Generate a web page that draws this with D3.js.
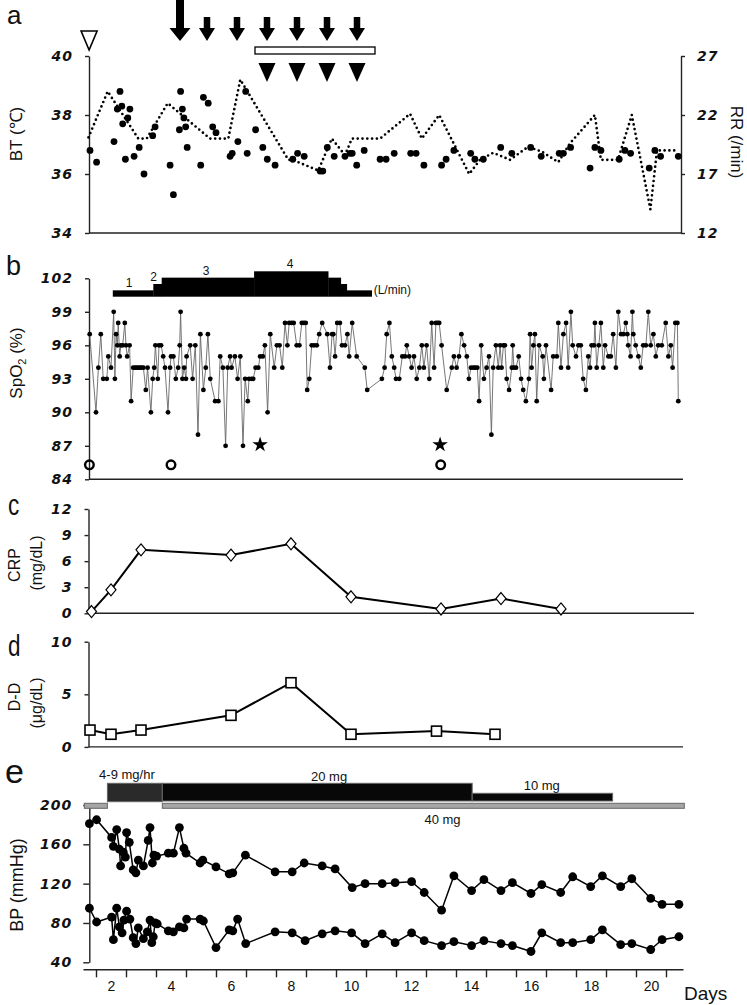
<!DOCTYPE html>
<html><head><meta charset="utf-8">
<script src="https://cdn.jsdelivr.net/npm/d3@7"></script>
<style>
body{margin:0;background:#fff}
svg{display:block}
.yax .tick text{font-family:"DejaVu Sans",sans-serif;font-weight:bold;font-style:italic;font-size:14px;letter-spacing:1px;fill:#111}
.xl .tick text{font-family:"Liberation Sans",Arial,sans-serif;font-size:14px;fill:#111}
.lbl{font-family:"Liberation Sans",Arial,sans-serif;fill:#111}
</style></head><body>
<svg id="chart" width="747" height="1005"></svg>
<script>
// ---------- DATA ----------
// Panel a: body temperature (dots) and respiratory rate (dotted line)
const btDays = [1.30,1.52,2.10,2.21,2.30,2.36,2.39,2.48,2.56,2.63,2.77,2.94,3.10,3.39,3.47,3.97,4.08,4.28,4.32,4.38,4.43,4.49,4.54,4.99,5.08,5.24,5.39,5.50,5.97,6.04,6.23,6.49,6.54,6.82,7.06,7.21,7.47,8.06,8.22,8.44,8.97,9.06,9.21,9.44,9.80,9.97,10.04,10.19,10.44,10.97,11.17,11.44,11.99,12.17,12.43,13.02,13.17,13.43,13.99,14.13,14.41,14.99,15.36,15.99,16.34,16.94,17.08,17.32,17.97,18.13,18.33,18.94,19.13,19.32,19.94,20.13,20.32,20.91];
const btVals = [36.8,36.4,37.1,38.2,38.8,38.3,37.7,36.5,37.9,38.2,36.6,36.9,36.0,37.3,37.6,36.3,35.3,37.5,38.8,38.2,37.9,37.6,36.9,36.3,38.6,38.4,37.6,37.4,36.6,36.7,37.1,38.8,36.7,37.5,36.9,36.5,36.3,36.5,36.7,36.6,36.1,36.1,36.9,36.6,36.6,36.7,36.7,36.3,36.8,36.5,36.5,36.7,36.7,36.7,36.3,36.3,36.5,36.8,36.7,36.5,36.5,36.9,36.7,36.9,36.6,36.7,36.7,36.9,36.2,36.9,36.8,36.5,36.8,36.7,36.2,36.8,36.6,36.6];
const rrDays = [1.25,1.89,2.91,3.19,3.89,5.30,5.91,6.31,7.91,8.05,8.91,9.36,9.80,10.03,10.97,11.97,12.36,12.94,13.94,14.30,14.74,15.30,15.90,16.36,16.91,17.30,18.13,18.33,18.90,19.36,19.98,20.20,20.87];
const rrVals = [20.1,24.0,20.0,20.0,23.0,20.0,20.0,25.0,18.2,18.2,17.3,20.0,18.6,20.0,20.0,22.1,20.0,22.0,17.0,18.2,18.8,18.2,19.3,18.9,18.0,19.6,22.0,18.2,18.2,22.0,14.0,19.0,19.0];
const btTicks = [34,36,38,40];
const rrTicks = [12,17,22,27];
const bigArrowDays = [4.3];
const arrowDays = [5.2,6.2,7.2,8.2,9.2,10.2];
const filledTriangleDays = [7.2,8.2,9.2,10.2];
const openTriangleDays = [1.27];
const openBarPeriod = [6.8,10.8];

// Panel b: SpO2 and O2 flow
const spo2Days = [1.29,1.50,1.58,1.66,1.74,1.86,1.91,2.00,2.09,2.13,2.17,2.21,2.24,2.29,2.33,2.39,2.46,2.50,2.54,2.62,2.67,2.74,2.80,2.86,2.91,2.97,3.02,3.08,3.16,3.22,3.33,3.39,3.44,3.48,3.56,3.60,3.67,3.74,3.80,3.90,3.97,4.00,4.08,4.16,4.24,4.29,4.32,4.38,4.44,4.50,4.52,4.64,4.72,4.81,4.90,4.98,5.08,5.16,5.23,5.31,5.47,5.58,5.64,5.73,5.82,5.89,5.97,6.02,6.13,6.22,6.31,6.40,6.47,6.56,6.60,6.69,6.74,6.82,6.91,6.97,7.06,7.13,7.22,7.31,7.44,7.53,7.62,7.71,7.80,7.88,7.94,8.02,8.09,
 8.19,8.28,8.36,8.43,8.49,8.54,8.61,8.69,8.77,8.86,8.94,9.04,9.21,9.30,9.37,9.41,9.47,9.54,9.63,9.70,9.80,9.88,9.94,10.04,10.19,10.46,10.54,11.03,11.12,11.19,11.28,11.36,11.44,11.50,11.61,11.71,11.80,11.86,11.94,12.02,12.10,12.19,12.28,12.36,12.43,12.52,12.61,12.69,12.77,12.83,12.89,12.94,13.02,13.19,13.36,13.43,13.52,13.60,13.68,13.77,13.86,13.93,14.00,14.08,14.14,14.21,14.27,14.34,14.43,14.52,14.60,14.68,
 14.74,14.83,14.91,14.97,15.02,15.08,15.13,15.19,15.27,15.36,15.39,15.43,15.50,15.59,15.67,15.74,15.83,15.93,15.97,16.02,16.08,16.13,16.19,16.27,16.39,16.43,16.50,16.67,16.74,16.86,16.91,17.00,17.08,17.17,17.24,17.33,17.39,17.50,17.58,17.66,17.74,17.83,17.91,17.97,18.02,18.10,18.13,18.19,18.26,18.33,18.41,18.47,18.58,18.66,18.74,18.83,18.91,19.00,19.08,19.16,19.21,19.24,19.32,19.38,19.41,19.49,19.58,19.66,19.74,19.83,19.91,19.99,20.08,20.16,20.24,20.36,20.49,20.58,20.66,20.72,20.81,20.88,20.91];
const spo2Vals = [97,90,94,97,93,93,95,94,99,93,97,96,98,95,96,96,98,96,95,96,91,94,94,94,94,94,94,94,92,94,90,93,94,96,93,96,96,95,94,90,94,95,95,93,94,96,99,93,94,93,95,96,93,96,88,97,92,94,97,93,91,91,95,94,87,94,95,94,95,93,95,87,93,91,93,93,93,94,94,95,95,96,90,97,94,96,96,94,98,96,98,98,98,
 96,96,98,98,98,92,93,96,96,96,97,98,97,94,97,97,95,98,98,96,96,97,95,98,95,94,92,93,94,97,98,95,94,93,93,95,95,96,95,94,95,93,94,96,94,96,93,98,94,98,98,98,96,92,94,95,94,95,97,96,95,93,94,94,94,94,91,96,93,94,95,88,
 94,96,94,96,94,96,96,93,92,94,96,94,94,95,93,92,91,93,97,94,96,97,91,96,95,93,96,92,95,95,98,94,97,98,94,99,96,95,96,96,93,92,95,94,96,96,98,94,96,98,94,96,95,95,97,94,99,97,97,98,97,96,95,99,97,96,95,94,96,96,99,96,97,95,96,96,98,95,96,94,98,98,91];
const spo2Ticks = [84,87,90,93,96,99,102];
const flowStart = [2.06,3.41,3.69,6.77,9.24,9.66,9.86];
const flowEnd   = [3.41,3.69,6.77,9.24,9.66,9.86,10.69];
const flowRate  = [1,2,3,4,3,2,1];
const flowLabelDays = [2.6,3.42,5.17,7.97];
const flowLabels = ["1","2","3","4"];
const circleDays = [1.28,4.0,12.99];
const starDays = [6.97,12.97];

// Panel c: CRP
const crpDays = [1.35,2,3,6,8,10,13,15,17];
const crpVals = [0.2,2.7,7.3,6.7,8.0,1.9,0.5,1.7,0.5];
const crpTicks = [0,3,6,9,12];

// Panel d: D-dimer
const ddDays = [1.3,2,3,6,8,10,12.85,14.8];
const ddVals = [1.6,1.2,1.6,3.0,6.1,1.2,1.5,1.2];
const ddTicks = [0,5,10];

// Panel e: blood pressure and medication
const bpDays = [1.28,1.52,2.02,2.08,2.19,2.28,2.32,2.41,2.48,2.52,2.61,2.74,2.83,2.91,3.08,3.24,3.30,3.38,3.43,3.52,3.91,4.08,4.28,4.43,4.50,4.97,5.06,5.50,5.94,6.06,6.48,7.47,8.04,8.44,9.04,9.47,10.04,10.47,11.04,11.47,12.02,12.44,13.02,13.43,14.02,14.43,15.00,15.38,16.00,16.36,16.99,17.39,17.99,18.38,18.99,19.36,19.99,20.37,20.93];
const sbpVals = [181,185,167,158,175,155,138,152,147,172,162,134,131,144,138,164,177,141,149,148,151,151,177,156,151,141,144,137,130,131,149,132,132,141,138,135,116,120,120,121,122,111,93,128,113,124,113,121,110,119,111,127,117,128,117,125,105,99,99];
const dbpDays = [1.28,1.52,2.02,2.08,2.19,2.28,2.37,2.43,2.52,2.63,2.74,2.83,2.91,3.08,3.21,3.30,3.36,3.41,3.47,3.54,3.91,4.08,4.28,4.43,4.52,4.97,5.08,5.50,5.94,6.06,6.22,6.49,7.47,8.04,8.47,9.04,9.47,10.02,10.47,11.04,11.47,12.02,12.44,13.02,13.43,14.02,14.43,15.00,15.38,16.00,16.36,16.99,17.39,17.99,18.38,18.99,19.36,19.99,20.37,20.93];
const dbpVals = [95,81,86,63,95,76,70,83,92,84,65,59,75,64,71,83,60,66,80,79,72,71,76,75,84,84,82,55,73,72,84,59,71,70,62,69,72,70,59,69,60,70,62,57,61,57,62,59,57,51,70,60,60,63,73,58,59,53,63,66];
const bpTicks = [40,80,120,160,200];
const infusionPeriod = [1.88,3.71];
const dose20Period = [3.71,14.04];
const dose10Period = [14.04,18.72];
const dose40Periods = [[1.11,1.88],[3.71,21.11]];
const medLabelText = ["4-9 mg/hr","20 mg","10 mg","40 mg"];
const medLabelDays = [2.53,9.27,16.36,13.05];
const dayTickBounds = [1.5,2.5,3.5,4.5,5.5,6.5,7.5,8.5,9.5,10.5,11.5,12.5,13.5,14.5,15.5,16.5,17.5,18.5,19.5,20.5];
const dayLabels = [2,4,6,8,10,12,14,16,18,20];

// ---------- DRAWING ----------
const svg = d3.select("#chart");
const x = d3.scaleLinear().domain([1.0667, 21.0667]).range([83, 683]);
const AX = "#222";
const fmt = d3.format("d");
function styleAxis(g){
  g.select(".domain").attr("stroke",AX).attr("stroke-width",1.4);
  g.selectAll(".tick line").attr("stroke",AX).attr("stroke-width",1.4);
}
function hline(x1,x2,y){
  svg.append("line").attr("x1",x1).attr("x2",x2).attr("y1",y).attr("y2",y)
    .attr("stroke",AX).attr("stroke-width",1.4);
}
function letter(t,xx,yy,size,sx){
  svg.append("text").attr("class","lbl").attr("transform",`translate(${xx},${yy}) scale(${sx||1},1)`)
    .attr("font-size",size).text(t);
}
function vlabel(cx,cy,size,rot){
  return svg.append("text").attr("class","lbl").attr("font-size",size)
    .attr("text-anchor","middle").attr("dy","0.35em")
    .attr("transform",`translate(${cx},${cy}) rotate(${rot||-90})`);
}
function leftAxis(scale,ticks,xpos,size,pad){
  svg.append("g").attr("class","yax").attr("transform",`translate(${xpos},0)`)
    .call(d3.axisLeft(scale).tickValues(ticks).tickFormat(fmt).tickSize(size).tickSizeOuter(0).tickPadding(pad))
    .call(styleAxis);
}

// ===== Panel a =====
const yBT = d3.scaleLinear().domain([34,40]).range([233,56]);
const yRR = d3.scaleLinear().domain([12,27]).range([233,56]);
leftAxis(yBT,btTicks,89,4,12);
svg.append("g").attr("class","yax").attr("transform","translate(681,0)")
  .call(d3.axisRight(yRR).tickValues(rrTicks).tickFormat(fmt).tickSize(4).tickSizeOuter(0).tickPadding(12)).call(styleAxis);
hline(89,681,yBT(34));
letter("a",7,23.5,26);
vlabel(16,134,17).text("BT (℃)");
vlabel(737,142,17,90).text("RR (/min)");

svg.append("path").datum(d3.zip(rrDays,rrVals))
  .attr("d",d3.line().x(d=>x(d[0])).y(d=>yRR(d[1])))
  .attr("fill","none").attr("stroke","#000").attr("stroke-width",2.7)
  .attr("stroke-linecap","round").attr("stroke-dasharray","0 4.8");
svg.append("g").selectAll("circle").data(d3.zip(btDays,btVals)).join("circle")
  .attr("cx",d=>x(d[0])).attr("cy",d=>yBT(d[1])).attr("r",3.4).attr("fill","#000");

function arrowPath(cx,sw,top,hw,ht,tip){
  return `M${cx-sw/2},${top}H${cx+sw/2}V${ht}H${cx+hw/2}L${cx},${tip}L${cx-hw/2},${ht}H${cx-sw/2}Z`;
}
svg.append("g").selectAll("path").data(bigArrowDays).join("path")
  .attr("d",d=>arrowPath(x(d),8,-2,21,28,41)).attr("fill","#000");
svg.append("g").selectAll("path").data(arrowDays).join("path")
  .attr("d",d=>arrowPath(x(d),6.5,17,16,28,41)).attr("fill","#000");
svg.append("g").selectAll("path").data(filledTriangleDays).join("path")
  .attr("d",d=>`M${x(d)-8.5},63H${x(d)+8.5}L${x(d)},82Z`).attr("fill","#000");
svg.append("g").selectAll("path").data(openTriangleDays).join("path")
  .attr("d",d=>`M${x(d)-8},31H${x(d)+8}L${x(d)},50Z`).attr("fill","#fff").attr("stroke","#000").attr("stroke-width",1.6);
svg.append("rect").attr("x",x(openBarPeriod[0])).attr("width",x(openBarPeriod[1])-x(openBarPeriod[0]))
  .attr("y",47).attr("height",7).attr("fill","#fff").attr("stroke","#000").attr("stroke-width",1.3);

// ===== Panel b =====
const ySp = d3.scaleLinear().domain([84,102]).range([479.3,278.3]);
const yFlow = d3.scaleLinear().domain([0,4]).range([296.7,271.3]);
leftAxis(ySp,spo2Ticks,89,4,12);
hline(89,683,ySp(84));
letter("b",6,275,27);
const spT = vlabel(16,363,17);
spT.append("tspan").text("SpO");
spT.append("tspan").attr("font-size",11).attr("dy","0.35em").text("2");
spT.append("tspan").attr("dy","-0.25em").text(" (%)");

svg.append("g").selectAll("rect").data(d3.range(flowRate.length)).join("rect")
  .attr("x",i=>x(flowStart[i])).attr("width",i=>x(flowEnd[i])-x(flowStart[i])+0.3)
  .attr("y",i=>yFlow(flowRate[i])).attr("height",i=>yFlow(0)-yFlow(flowRate[i]))
  .attr("fill","#000");
svg.append("g").selectAll("text").data(d3.range(flowLabels.length)).join("text")
  .attr("class","lbl").attr("font-size",12).attr("text-anchor","middle")
  .attr("x",i=>x(flowLabelDays[i])).attr("y",i=>yFlow(+flowLabels[i])-3).text(i=>flowLabels[i]);
svg.append("text").attr("class","lbl").attr("font-size",12)
  .attr("x",x(flowEnd[flowEnd.length-1])+2).attr("y",yFlow(1)+4).text("(L/min)");

svg.append("path").datum(d3.zip(spo2Days,spo2Vals))
  .attr("d",d3.line().x(d=>x(d[0])).y(d=>ySp(d[1])))
  .attr("fill","none").attr("stroke","#666").attr("stroke-width",0.9);
svg.append("g").selectAll("circle").data(d3.zip(spo2Days,spo2Vals)).join("circle")
  .attr("cx",d=>x(d[0])).attr("cy",d=>ySp(d[1])).attr("r",2.4).attr("fill","#000");
svg.append("g").selectAll("circle").data(circleDays).join("circle")
  .attr("cx",d=>x(d)).attr("cy",ySp(85.3)).attr("r",4.3)
  .attr("fill","none").attr("stroke","#000").attr("stroke-width",2.4);
svg.append("g").selectAll("path").data(starDays).join("path")
  .attr("transform",d=>`translate(${x(d)},${ySp(87.1)})`)
  .attr("d",d3.symbol(d3.symbolStar).size(75)).attr("fill","#000");

// ===== Panel c =====
const yCRP = d3.scaleLinear().domain([0,12]).range([613.3,509]);
leftAxis(yCRP,crpTicks,88.5,4,12);
hline(88.5,694,yCRP(0));
letter("c",8,515,30,0.75);
vlabel(14,565,16).text("CRP");
vlabel(36,563,16).text("(mg/dL)");
svg.append("path").datum(d3.zip(crpDays,crpVals))
  .attr("d",d3.line().x(d=>x(d[0])).y(d=>yCRP(d[1])))
  .attr("fill","none").attr("stroke","#000").attr("stroke-width",2);
svg.append("g").selectAll("path").data(d3.zip(crpDays,crpVals)).join("path")
  .attr("d",d=>{const cx=x(d[0]),cy=yCRP(d[1]);return `M${cx},${cy-6}L${cx+5},${cy}L${cx},${cy+6}L${cx-5},${cy}Z`;})
  .attr("fill","#fff").attr("stroke","#000").attr("stroke-width",1.2);

// ===== Panel d =====
const yDD = d3.scaleLinear().domain([0,10]).range([746.9,641.7]);
leftAxis(yDD,ddTicks,88.5,4,12);
hline(88.5,683,yDD(0));
letter("d",8,656,30,0.75);
vlabel(14,697,16).text("D-D");
vlabel(36,703,16).text("(μg/dL)");
svg.append("path").datum(d3.zip(ddDays,ddVals))
  .attr("d",d3.line().x(d=>x(d[0])).y(d=>yDD(d[1])))
  .attr("fill","none").attr("stroke","#000").attr("stroke-width",2);
svg.append("g").selectAll("rect").data(d3.zip(ddDays,ddVals)).join("rect")
  .attr("x",d=>x(d[0])-5).attr("y",d=>yDD(d[1])-5).attr("width",10).attr("height",10)
  .attr("fill","#fff").attr("stroke","#000").attr("stroke-width",1.6);

// ===== Panel e =====
const yBP = d3.scaleLinear().domain([40,200]).range([962.3,805]);
leftAxis(yBP,bpTicks,89.3,6,11);
letter("e",5,783,34);
vlabel(17,885,18).text("BP (mmHg)");

function medBar(p,y0,y1,fill){
  svg.append("rect").attr("x",x(p[0])).attr("width",x(p[1])-x(p[0]))
    .attr("y",y0).attr("height",y1-y0).attr("fill",fill).attr("stroke","#666").attr("stroke-width",1);
}
dose40Periods.forEach(p=>medBar(p,803.3,808.3,"#a6a6a6"));
medBar(infusionPeriod,783.3,801.7,"#2a2a2a");
medBar(dose20Period,783.3,801,"#080808");
medBar(dose10Period,793.3,801,"#080808");
const medLabelY = [779,781,790,824];
svg.append("g").selectAll("text").data(d3.range(medLabelText.length)).join("text")
  .attr("class","lbl").attr("font-size",13).attr("text-anchor","middle")
  .attr("x",i=>x(medLabelDays[i])).attr("y",i=>medLabelY[i]).text(i=>medLabelText[i]);

const bpLine = d3.line().x(d=>x(d[0])).y(d=>yBP(d[1]));
[[bpDays,sbpVals],[dbpDays,dbpVals]].forEach(([dd,vv])=>{
  const pts = d3.zip(dd,vv);
  svg.append("path").datum(pts).attr("d",bpLine).attr("fill","none").attr("stroke","#000").attr("stroke-width",1.5);
  svg.append("g").selectAll("circle").data(pts).join("circle")
    .attr("cx",d=>x(d[0])).attr("cy",d=>yBP(d[1])).attr("r",4.4).attr("fill","#000");
});

// x axis
svg.append("g").attr("transform","translate(0,969.3)")
  .call(d3.axisBottom(x).tickValues(dayTickBounds).tickSize(8).tickSizeOuter(0).tickFormat(""))
  .call(styleAxis);
svg.append("g").attr("class","xl").attr("transform","translate(0,969.3)")
  .call(d3.axisBottom(x).tickValues(dayLabels).tickSize(0).tickPadding(12))
  .call(g=>g.select(".domain").remove());
svg.append("text").attr("class","lbl").attr("font-size",19).attr("x",684).attr("y",1000).text("Days");
</script>
</body></html>
